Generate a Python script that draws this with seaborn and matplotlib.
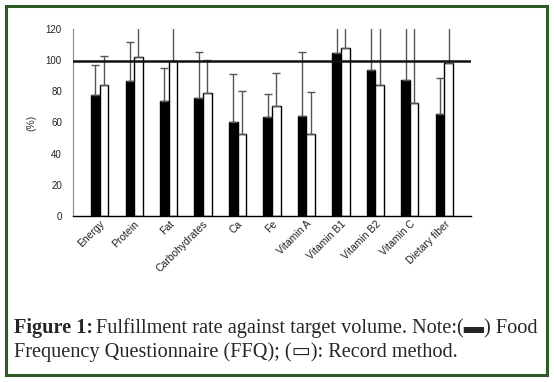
import numpy as np
import pandas as pd
import matplotlib
matplotlib.use("Agg")
import matplotlib.pyplot as plt
from matplotlib.patches import Rectangle
import seaborn as sns

# 数据
nutrients = ["Energy", "Protein", "Fat", "Carbohydrates", "Ca", "Fe",
             "Vitamin A", "Vitamin B1", "Vitamin B2", "Vitamin C", "Dietary fiber"]
ffq_mean = [77.6, 86.8, 73.9, 75.8, 60.4, 63.6, 64.3, 104.8, 93.8, 87.4, 65.3]
ffq_sd = [19.2, 24.8, 21.0, 29.3, 30.6, 14.6, 40.9, 40.0, 35.0, 38.0, 23.2]
rec_mean = [84.0, 102.0, 99.3, 78.8, 52.3, 70.5, 52.3, 107.5, 84.0, 72.4, 98.1]
rec_sd = [18.6, 30.0, 35.0, 21.0, 27.8, 21.2, 27.2, 45.0, 40.0, 50.0, 35.0]
methods = ["FFQ", "Record"]
target_line = 99.5
yticks = [0, 20, 40, 60, 80, 100, 120]

df = pd.DataFrame({
    "nutrient": nutrients * 2,
    "method": [methods[0]] * len(nutrients) + [methods[1]] * len(nutrients),
    "value": ffq_mean + rec_mean,
})

sns.set_style("white")
plt.rcParams["font.family"] = ["Liberation Sans", "DejaVu Sans"]

fig = plt.figure(figsize=(5.54, 3.82), dpi=100)
ax = fig.add_axes([73 / 554, 1 - 216 / 382, 398 / 554, 187 / 382])

sns.barplot(data=df, x="nutrient", y="value", hue="method", order=nutrients,
            hue_order=methods, palette={"FFQ": "black", "Record": "white"},
            edgecolor="black", linewidth=1, width=0.5, saturation=1,
            errorbar=None, legend=False, ax=ax)

# 误差线（仅向上）
for cont, sd in zip(ax.containers, [ffq_sd, rec_sd]):
    xs = [p.get_x() + p.get_width() / 2 for p in cont.patches]
    ys = [p.get_height() for p in cont.patches]
    ax.errorbar(xs, ys, yerr=[np.zeros(len(sd)), sd], fmt="none",
                ecolor="#555555", elinewidth=1, capsize=3, capthick=1, zorder=1)

ax.axhline(target_line, color="#111111", lw=1.8, zorder=5)

ax.set_ylim(0, 120)
ax.set_yticks(yticks)
ax.set_xlabel("")
ax.set_ylabel("(%)", fontsize=7.5, color="#333333", labelpad=7)
ax.tick_params(axis="y", direction="in", length=3, width=0.8, color="#666666",
               pad=8, labelsize=7, labelcolor="#222222")
ax.tick_params(axis="x", length=0, pad=2, labelsize=7.5, labelcolor="#222222")
plt.setp(ax.get_xticklabels(), rotation=45, ha="right", rotation_mode="anchor")

for s in ["top", "right"]:
    ax.spines[s].set_visible(False)
ax.spines["left"].set_color("#888888")
ax.spines["left"].set_linewidth(0.8)
ax.spines["bottom"].set_color("black")
ax.spines["bottom"].set_linewidth(1)

# 外框
fig.patches.append(Rectangle((6 / 554, 1 - 375 / 382), 541 / 554, 369 / 382,
                             transform=fig.transFigure, fill=False,
                             edgecolor="#2f5a27", linewidth=2.2))

# 图注
cap_family = ["Liberation Serif", "DejaVu Sans"]
cap_size = 14.6
fig.text(14 / 554, 1 - 333 / 382, "Figure 1:", fontsize=cap_size, fontweight="bold",
         family=cap_family, va="baseline", ha="left")
fig.text(96 / 554, 1 - 333 / 382,
         "Fulfillment rate against target volume. Note:(\u25ac) Food",
         fontsize=cap_size, family=cap_family, va="baseline", ha="left")
fig.text(14 / 554, 1 - 357 / 382,
         "Frequency Questionnaire (FFQ); (\u25ad): Record method.",
         fontsize=cap_size, family=cap_family, va="baseline", ha="left")

fig.savefig("out.png", dpi=100)
